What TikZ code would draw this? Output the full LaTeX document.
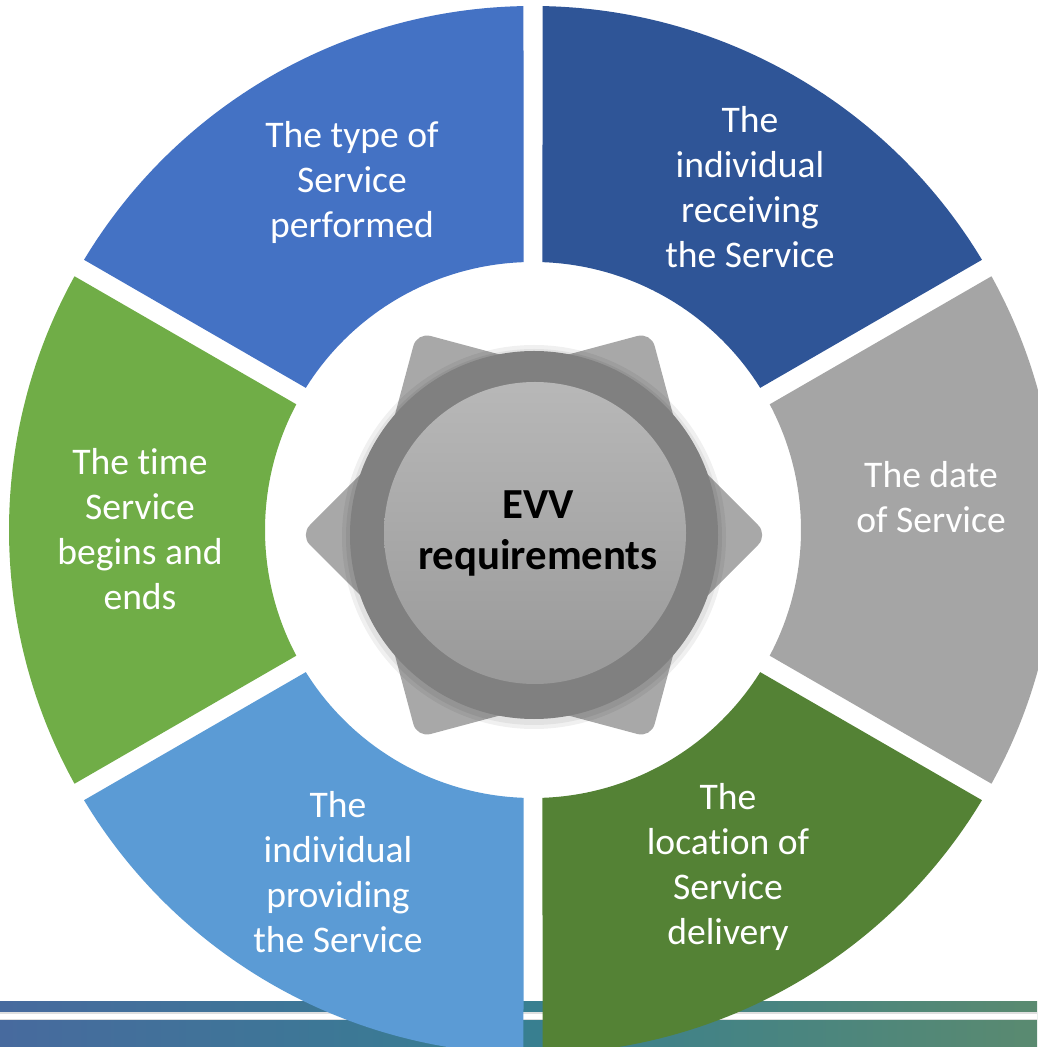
\documentclass[tikz,border=0pt]{standalone}
\usepackage{fontspec}
\setmainfont{Carlito}[Ligatures=NoCommon]

\definecolor{bleu}{HTML}{4472C4}
\definecolor{bleufonce}{HTML}{2F5597}
\definecolor{gris}{HTML}{A5A5A5}
\definecolor{vertfonce}{HTML}{548235}
\definecolor{bleuclair}{HTML}{5B9BD5}
\definecolor{vert}{HTML}{70AD47}
\definecolor{barreg}{HTML}{476A9E}
\definecolor{barrem}{HTML}{377F91}
\definecolor{barred}{HTML}{5A8A70}

\begin{document}
\begin{tikzpicture}[x=0.5pt,y=0.5pt]

% définition des styles
\tikzstyle{texte}=[text=white,align=center,font=\fontsize{18.8}{22.5}\selectfont]
\tikzstyle{dent}=[fill=gray!68,rounded corners=7pt]
\tikzstyle{anneau}=[fill=black!50]
\tikzstyle{ombre}=[fill=black,opacity=0.06]

\useasboundingbox (-533,-517) rectangle (504,530);

% la barre du bas
\shade[left color=barreg,right color=barred,middle color=barrem] (-533,-517) rectangle (504,-471);
\fill[white!75!gray] (-533,-490) rectangle (504,-482);
\fill[white] (-533,-488.5) rectangle (504,-483.5);

% les secteurs
\fill[bleu] (91.04:524) arc[start angle=91.04,end angle=148.96,radius=524] -- (147.97:268) arc[start angle=147.97,end angle=92.03,radius=268] -- cycle;
\fill[bleufonce] (31.04:524) arc[start angle=31.04,end angle=88.96,radius=524] -- (87.97:268) arc[start angle=87.97,end angle=32.03,radius=268] -- cycle;
\fill[gris] (-28.96:524) arc[start angle=-28.96,end angle=28.96,radius=524] -- (27.97:268) arc[start angle=27.97,end angle=-27.97,radius=268] -- cycle;
\fill[vertfonce] (-88.96:524) arc[start angle=-88.96,end angle=-31.04,radius=524] -- (-32.03:268) arc[start angle=-32.03,end angle=-87.97,radius=268] -- cycle;
\fill[bleuclair] (-148.96:524) arc[start angle=-148.96,end angle=-91.04,radius=524] -- (-92.03:268) arc[start angle=-92.03,end angle=-147.97,radius=268] -- cycle;
\fill[vert] (151.04:524) arc[start angle=151.04,end angle=208.96,radius=524] -- (207.97:268) arc[start angle=207.97,end angle=152.03,radius=268] -- cycle;

% les textes
\node [texte] (type) at (-181,348) {The type of\\Service\\performed};
\node [texte] (recoit) at (217,343) {The\\individual\\receiving\\the Service};
\node [texte] (date) at (398,33) {The date\\of Service};
\node [texte] (lieu) at (195,-337) {The\\location of\\Service\\delivery};
\node [texte] (fournit) at (-195,-342) {The\\individual\\providing\\the Service};
\node [texte] (heure) at (-393,1) {The time\\Service\\begins and\\ends};

% l'engrenage
\begin{scope}[shift={(1,-5)}]
\fill[dent,rotate=0] (0:234) -- ++(135:150) -- ++(225:150) -- ++(315:150) -- cycle;
\fill[dent,rotate=60] (0:234) -- ++(135:150) -- ++(225:150) -- ++(315:150) -- cycle;
\fill[dent,rotate=120] (0:234) -- ++(135:150) -- ++(225:150) -- ++(315:150) -- cycle;
\fill[dent,rotate=180] (0:234) -- ++(135:150) -- ++(225:150) -- ++(315:150) -- cycle;
\fill[dent,rotate=240] (0:234) -- ++(135:150) -- ++(225:150) -- ++(315:150) -- cycle;
\fill[dent,rotate=300] (0:234) -- ++(135:150) -- ++(225:150) -- ++(315:150) -- cycle;
\fill[ombre] (0,-2) circle (192);
\fill[ombre] (0,-2) circle (188);
\fill[anneau] (0,0) circle (184);
\shade[top color=black!28,bottom color=black!40] (1,2) circle (151);
\end{scope}

\node [align=center,font=\bfseries\fontsize{21.4}{25.5}\selectfont] (evv) at (5,-3) {EVV\\requirements};

\end{tikzpicture}
\end{document}
